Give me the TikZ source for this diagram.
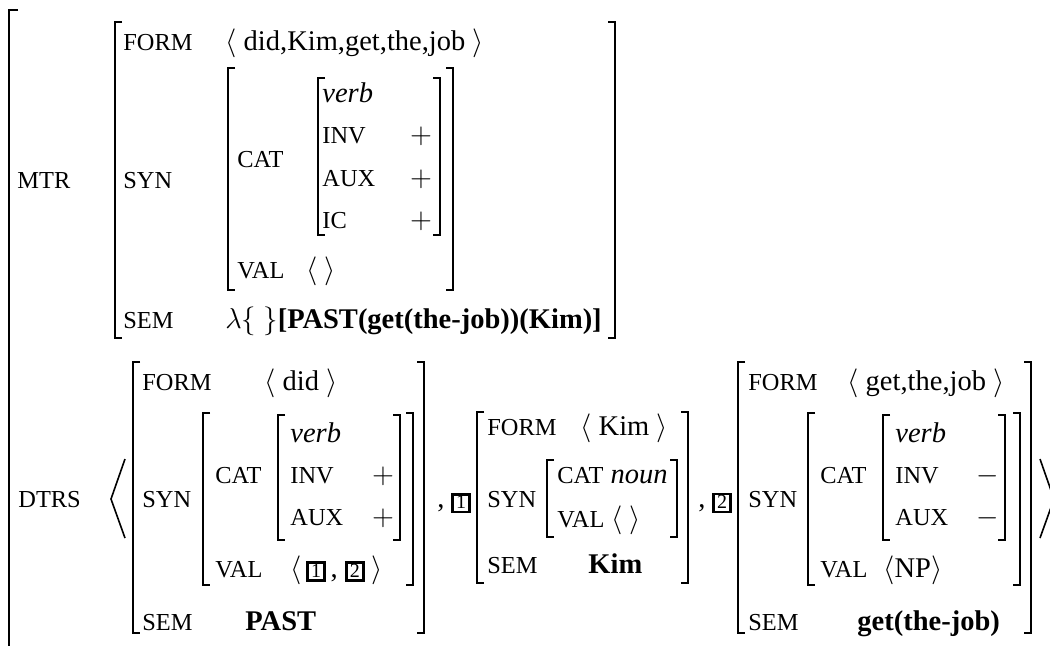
\documentclass[tikz,border=0pt]{standalone}
\usepackage{fontspec}
\setmainfont{Liberation Serif}
% boxed tag numbers
\newcommand\tagbox[1]{{\setlength\fboxsep{0pt}\setlength\fboxrule{1.4pt}%
  \fbox{\makebox[7pt]{\rule[-0.9pt]{0pt}{7.2pt}\fontsize{10}{10}\selectfont #1}}}}
\newcommand\attr[1]{{\fontsize{12.2}{14}\selectfont #1}}
% left and right matrix brackets: x, top y, bottom y
\newcommand\avmL[3]{\draw[brk] (#1+7,#2) -- (#1,#2) -- (#1,#3) -- (#1+7,#3);}
\newcommand\avmR[3]{\draw[brk] (#1-7,#2) -- (#1,#2) -- (#1,#3) -- (#1-7,#3);}
\tikzset{
  txt/.style={anchor=base west, inner sep=0pt, font=\fontsize{14.25}{17}\selectfont},
  lbl/.style={anchor=base west, inner sep=0pt, font=\fontsize{12.2}{14}\selectfont},
  sgn/.style={anchor=base, inner sep=0pt, font=\fontsize{14.25}{17}\selectfont},
  tagn/.style={inner sep=0pt, anchor=center},
  brk/.style={line width=1pt},
  ang/.style={line width=0.8pt},
}
\begin{document}
\begin{tikzpicture}[x=0.5pt,y=-0.5pt]
\useasboundingbox (0,0) rectangle (1050,645);

% outer matrix (left side only)
\draw[brk] (18,10) -- (9,10) -- (9,660);

% ---------------- MTR ----------------
\node[lbl] (mtr) at (17,188) {MTR};
\avmL{115}{22}{338}
\avmR{615}{22}{338}
\node[lbl] (mform) at (123,50) {FORM};
\node[txt] (mformv) at (225,50) {$\langle$\ did,Kim,get,the,job\ $\rangle$};
\node[lbl] (msyn) at (123,188) {SYN};
\avmL{228}{68}{290}
\avmR{453}{68}{290}
\node[lbl] (mcat) at (237,167) {CAT};
\avmL{318}{78}{235}
\avmR{440}{78}{235}
\node[txt] (mverb) at (322,102) {\textit{verb}};
\node[lbl] (minv) at (322,143) {INV};
\node[sgn] (minvv) at (421,143) {$+$};
\node[lbl] (maux) at (322,186) {AUX};
\node[sgn] (mauxv) at (421,186) {$+$};
\node[lbl] (mic) at (322,228) {IC};
\node[sgn] (micv) at (421,228) {$+$};
\node[lbl] (mval) at (237,278) {VAL};
\node[txt] (mvalv) at (306,278) {$\langle\ \rangle$};
\node[lbl] (msem) at (123,328) {SEM};
\node[txt] (msemv) at (225,328) {$\lambda\{\ \}$\textbf{[PAST(get(the-job))(Kim)]}};

% ---------------- DTRS ----------------
\node[lbl] (dtrs) at (18,507) {DTRS};
\draw[ang] (125,459) -- (111,499) -- (125,538);

% first daughter
\avmL{133}{362}{633}
\avmR{424}{362}{633}
\node[lbl] (aform) at (142,390) {FORM};
\node[txt] (aformv) at (264,390) {$\langle$\ did\ $\rangle$};
\node[lbl] (asyn) at (142,507) {SYN};
\avmL{203}{413}{585}
\avmR{413}{413}{585}
\node[lbl] (acat) at (215,483) {CAT};
\avmL{278}{415}{540}
\avmR{400}{415}{540}
\node[txt] (averb) at (290,442) {\textit{verb}};
\node[lbl] (ainv) at (290,483) {INV};
\node[sgn] (ainvv) at (383,483) {$+$};
\node[lbl] (aaux) at (290,525) {AUX};
\node[sgn] (aauxv) at (383,525) {$+$};
\node[lbl] (aval) at (215,577) {VAL};
\node[txt] (avalv) at (290,577) {$\langle$\,\tagbox{1}\,,\ \tagbox{2}\ $\rangle$};
\node[lbl] (asem) at (142,630) {SEM};
\node[txt] (asemv) at (245,630) {\textbf{PAST}};

\node[txt] (comma1) at (437,507) {,};
\node[tagn] (tag1) at (461,503) {\tagbox{1}};

% second daughter
\avmL{477}{412}{583}
\avmR{688}{412}{583}
\node[lbl] (bform) at (487,435) {FORM};
\node[txt] (bformv) at (580,435) {$\langle$\ Kim\ $\rangle$};
\node[lbl] (bsyn) at (487,507) {SYN};
\avmL{547}{460}{537}
\avmR{677}{460}{537}
\node[txt] (bcat) at (557,483) {\attr{CAT} \textit{noun}};
\node[txt] (bval) at (557,527) {\attr{VAL} $\langle\ \rangle$};
\node[lbl] (bsem) at (487,573) {SEM};
\node[txt] (bsemv) at (588,573) {\textbf{Kim}};

\node[txt] (comma2) at (698,507) {,};
\node[tagn] (tag2) at (722,503) {\tagbox{2}};

% third daughter
\avmL{738}{362}{633}
\avmR{1031}{362}{633}
\node[lbl] (cform) at (748,390) {FORM};
\node[txt] (cformv) at (847,390) {$\langle$\ get,the,job\ $\rangle$};
\node[lbl] (csyn) at (748,507) {SYN};
\avmL{808}{413}{585}
\avmR{1020}{413}{585}
\node[lbl] (ccat) at (820,483) {CAT};
\avmL{883}{415}{540}
\avmR{1005}{415}{540}
\node[txt] (cverb) at (895,442) {\textit{verb}};
\node[lbl] (cinv) at (895,483) {INV};
\node[sgn] (cinvv) at (988,483) {$-$};
\node[lbl] (caux) at (895,525) {AUX};
\node[sgn] (cauxv) at (988,525) {$-$};
\node[lbl] (cval) at (820,577) {VAL};
\node[txt] (cvalv) at (883,577) {$\langle$NP$\rangle$};
\node[lbl] (csem) at (748,630) {SEM};
\node[txt] (csemv) at (857,630) {\textbf{get(the-job)}};

\draw[ang] (1040,459) -- (1054,499) -- (1040,538);
\end{tikzpicture}
\end{document}
